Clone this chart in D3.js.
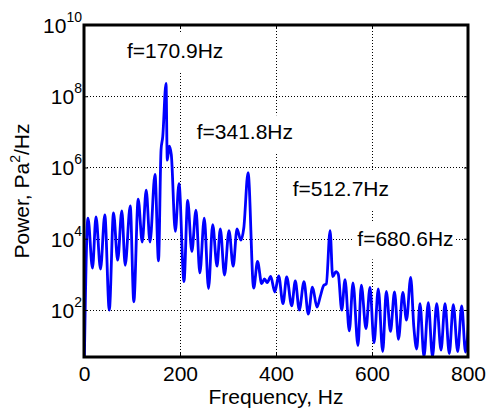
<!DOCTYPE html>
<html>
<head>
<meta charset="utf-8">
<script src="https://cdn.jsdelivr.net/npm/d3@7"></script>
<style>
  html, body { margin: 0; padding: 0; background: #fff; }
  svg { display: block; font-family: "Liberation Sans", Arial, Helvetica, sans-serif; }
</style>
</head>
<body>
<svg id="chart" width="486" height="409"></svg>
<script>
// Pressure spectrum: frequency (Hz) and power spectral density (Pa^2/Hz)
const freqHz = [
  0, 8.3, 17.7, 25.0, 34.4, 43.3, 52.7, 61.5, 70.2, 78.8,
  85.8, 96.3, 103.8, 112.9, 121.3, 129.6, 137.5, 147.9, 155.2, 160.5,
  164.0, 170.9, 173.5, 177.7, 181.9, 190.2, 197.9, 208.3, 216.0, 224.6,
  233.3, 241.3, 250.6, 259.4, 268.1, 277.1, 284.0, 292.7, 302.1, 310.8,
  318.8, 326.7, 332.9, 341.8, 353.5, 361.5, 370.2, 376.0, 381.7, 389.0,
  397.5, 405.6, 414.6, 422.3, 432.7, 440.2, 448.5, 458.3, 467.3, 476.0,
  485.4, 492.3, 499.4, 504.8, 512.7, 518.1, 525.0, 529.8, 536.9, 543.8,
  552.7, 560.4, 570.8, 577.7, 587.5, 595.8, 604.2, 613.1, 622.3, 629.8,
  638.5, 646.9, 655.2, 664.2, 671.9, 680.6, 687.1, 693.1, 700.0, 708.3,
  717.3, 726.0, 734.8, 743.8, 752.1, 761.0, 769.4, 778.5, 786.9, 794.8,
  803.0
];
const powerPa2 = [
  1, 3.8e4, 1.5e3, 4.1e4, 1.4e3, 4.7e4, 1.0e2, 5.3e4, 2.5e3, 6.0e4,
  1.8e3, 8.3e4, 1.7e2, 1.3e5, 8.1e3, 2.3e5, 8.1e3, 6.4e5, 2.4e3, 3.1e6,
  7.2e6, 2.3e8, 1.6e6, 4.0e6, 2.3e6, 1.6e4, 3.5e5, 6.3e2, 1.2e5, 4.4e3,
  6.3e4, 1.1e3, 3.8e4, 4.0e2, 2.5e4, 1.7e3, 1.9e4, 9.6e2, 1.7e4, 1.7e3,
  1.9e4, 9.1e3, 2.0e4, 7.2e5, 4.1e2, 2.3e3, 5.5e2, 7.4e2, 5.9e2, 8.7e2,
  3.2e2, 9.0e2, 1.5e2, 8.5e2, 1.3e2, 6.5e2, 1.0e2, 6.2e2, 77, 4.4e2,
  1.2e2, 2.4e2, 4.9e2, 5.4e2, 1.7e4, 8.6e2, 1.2e3, 1.0e3, 1.0e2, 7.1e2,
  26, 5.8e2, 10, 5.0e2, 30, 4.3e2, 12, 3.9e2, 6.8, 3.3e2,
  25, 3.2e2, 15, 3.1e2, 52, 8.2e2, 34, 8.0, 1.5e2, 4.9,
  1.6e2, 4.9, 1.5e2, 7.5, 1.5e2, 6.0, 1.4e2, 6.8, 1.3e2, 6.6,
  1.3e2
];
const xTickValues = [0, 200, 400, 600, 800];
const yTickExponents = [2, 4, 6, 8, 10];
const peakFreqs = [170.9, 341.8, 512.7, 680.6];

const svg = d3.select("#chart");
const box = { left: 84, right: 468, top: 25, bottom: 357 };
const fontSize = 21;

const x = d3.scaleLinear().domain([0, 800]).range([box.left, box.right]);
const y = d3.scaleLog().domain([Math.pow(10, 0.68), 1e10]).range([box.bottom, box.top]);

// dotted grid
const grid = svg.append("g").attr("stroke", "#000").attr("stroke-width", 1)
  .attr("stroke-dasharray", "1,2");
grid.selectAll(".gx").data(xTickValues.filter(v => v > 0 && v < 800)).join("line")
  .attr("x1", d => Math.round(x(d)) + 0.5).attr("x2", d => Math.round(x(d)) + 0.5)
  .attr("y1", box.top).attr("y2", box.bottom);
grid.selectAll(".gy").data(yTickExponents.filter(e => e < 10)).join("line")
  .attr("y1", d => Math.round(y(Math.pow(10, d))) + 0.5).attr("y2", d => Math.round(y(Math.pow(10, d))) + 0.5)
  .attr("x1", box.left).attr("x2", box.right);

// peak annotations with white boxes behind text
const labelPlace = [
  { f: 89.6, p: 1.2e9 },
  { f: 234.8, p: 6.2e6 },
  { f: 434.8, p: 1.6e5 },
  { f: 569.4, p: 6.3e3 }
];
const ann = svg.append("g");
peakFreqs.forEach((pf, i) => {
  const g = ann.append("g");
  const tx = x(labelPlace[i].f), ty = y(labelPlace[i].p);
  const rect = g.append("rect").attr("fill", "#fff");
  const t = g.append("text").attr("x", tx).attr("y", ty)
    .attr("font-size", fontSize).attr("fill", "#000")
    .text("f=" + pf.toFixed(1) + "Hz");
  const w = t.node().getComputedTextLength();
  rect.attr("x", tx - 4).attr("y", ty - 24).attr("width", w + 6).attr("height", 37.5);
});

// spectrum line
svg.append("clipPath").attr("id", "plotClip").append("rect")
  .attr("x", box.left).attr("y", box.top)
  .attr("width", box.right - box.left).attr("height", box.bottom - box.top);

const pts = freqHz.map((f, i) => ({ f, p: powerPa2[i] }));
const line = d3.line().x(d => x(d.f)).y(d => y(d.p)).curve(d3.curveMonotoneX);
svg.append("path").datum(pts)
  .attr("clip-path", "url(#plotClip)")
  .attr("fill", "none").attr("stroke", "#0000ff").attr("stroke-width", 2.8)
  .attr("stroke-linejoin", "round")
  .attr("d", line);

// axes with inward ticks
const tickLen = 4;
const xAxis = d3.axisBottom(x).tickValues(xTickValues).tickSizeInner(-tickLen).tickSizeOuter(0)
  .tickPadding(9.5).tickFormat(d3.format("d"));
const gx = svg.append("g").attr("transform", `translate(0,${box.bottom})`).call(xAxis);
gx.select(".domain").remove();
gx.selectAll("text").attr("font-size", fontSize).attr("font-family", null).attr("fill", "#000");
gx.selectAll("line").attr("stroke", "#000");

svg.append("g").attr("transform", `translate(0,${box.top})`)
  .call(d3.axisTop(x).tickValues(xTickValues).tickSizeInner(-tickLen).tickSizeOuter(0).tickFormat(""))
  .call(g => g.select(".domain").remove());

const yTicks = yTickExponents.map(e => Math.pow(10, e));
const gy = svg.append("g").attr("transform", `translate(${box.left},0)`)
  .call(d3.axisLeft(y).tickValues(yTicks).tickSizeInner(-tickLen).tickSizeOuter(0).tickFormat(""));
gy.select(".domain").remove();
gy.selectAll(".tick").each(function (d) {
  const e = Math.round(Math.log10(d));
  const t = d3.select(this).append("text")
    .attr("x", -2).attr("y", 7.5).attr("text-anchor", "end")
    .attr("fill", "#000").attr("font-size", fontSize);
  t.append("tspan").text("10");
  t.append("tspan").attr("dy", -11).attr("font-size", 14).text(e);
});

svg.append("g").attr("transform", `translate(${box.right},0)`)
  .call(d3.axisRight(y).tickValues(yTicks).tickSizeInner(-tickLen).tickSizeOuter(0).tickFormat(""))
  .call(g => g.select(".domain").remove());

// axes box
svg.append("rect").attr("x", box.left).attr("y", box.top)
  .attr("width", box.right - box.left).attr("height", box.bottom - box.top)
  .attr("fill", "none").attr("stroke", "#000").attr("stroke-width", 3);

// axis titles
svg.append("text").attr("x", (box.left + box.right) / 2).attr("y", 404)
  .attr("text-anchor", "middle").attr("font-size", fontSize).attr("fill", "#000")
  .text("Frequency, Hz");

const yl = svg.append("text")
  .attr("transform", `translate(29,${(box.top + box.bottom) / 2}) rotate(-90)`)
  .attr("text-anchor", "middle").attr("font-size", fontSize).attr("fill", "#000");
yl.append("tspan").text("Power, Pa");
yl.append("tspan").attr("dy", -9).attr("font-size", 14).text("2");
yl.append("tspan").attr("dy", 9).text("/Hz");
</script>
</body>
</html>
